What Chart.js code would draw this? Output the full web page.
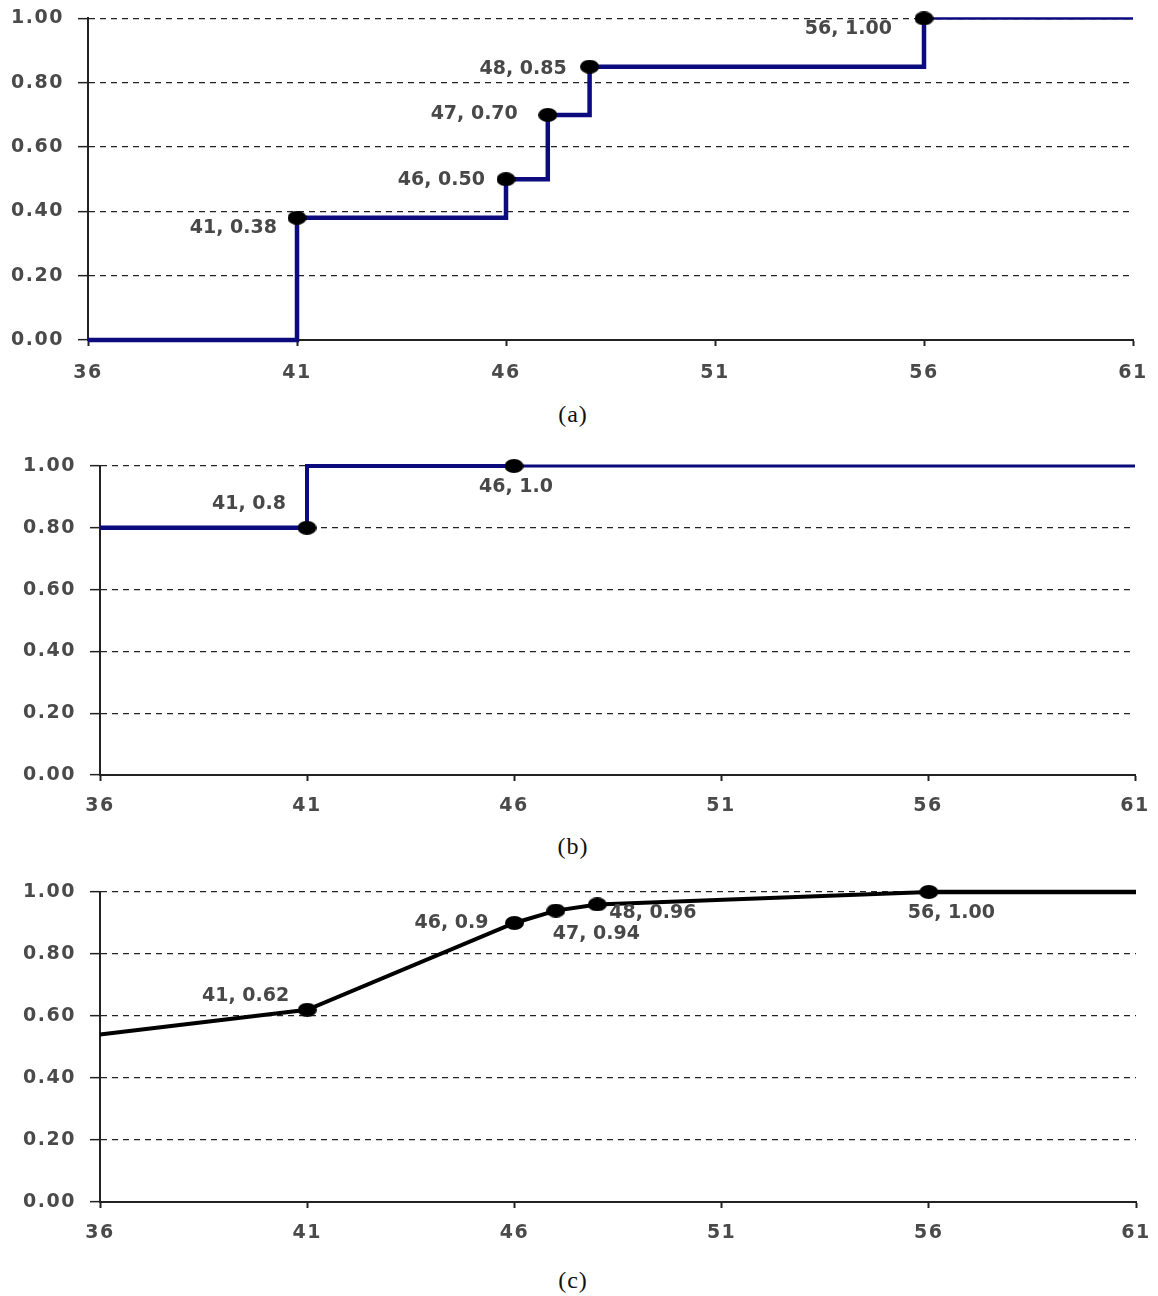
<!DOCTYPE html>
<html>
<head>
<meta charset="utf-8">
<script src="https://cdn.jsdelivr.net/npm/chart.js@4.4.1/dist/chart.umd.min.js"></script>
<style>
  html, body { margin: 0; padding: 0; background: #fff; }
  body { width: 1158px; height: 1296px; position: relative; overflow: hidden; }
  canvas { position: absolute; left: 0; }
  .cap { position: absolute; left: 0; width: 1146px; text-align: center;
         font: 24px "Liberation Serif", "Times New Roman", serif; letter-spacing: 1px; color: #111; }
</style>
</head>
<body>
<canvas id="chartA" width="1158" height="390" style="top:-7px"></canvas>
<div class="cap" style="top:401px">(a)</div>
<canvas id="chartB" width="1158" height="390" style="top:440px"></canvas>
<div class="cap" style="top:833px">(b)</div>
<canvas id="chartC" width="1158" height="390" style="top:866px"></canvas>
<div class="cap" style="top:1267px">(c)</div>

<script>
// shared axes
const xTicks = [36, 41, 46, 51, 56, 61];
const yTicks = [0, 0.2, 0.4, 0.6, 0.8, 1.0];

// (a) step function
const xA = [36, 41, 46, 47, 48, 56, 61];
const yA = [0, 0.38, 0.50, 0.70, 0.85, 1.00, 1.00];
const labelsA = [null, '41, 0.38', '46, 0.50', '47, 0.70', '48, 0.85', '56, 1.00', null];

// (b) step function
const xB = [36, 41, 46, 61];
const yB = [0.8, 0.8, 1.0, 1.0];
const labelsB = [null, '41, 0.8', '46, 1.0', null];

// (c) polyline
const xC = [36, 41, 46, 47, 48, 56, 61];
const yC = [0.54, 0.62, 0.90, 0.94, 0.96, 1.00, 1.00];
const labelsC = [null, '41, 0.62', '46, 0.9', '47, 0.94', '48, 0.96', '56, 1.00', null];

// where each label sits relative to its point: [align, dx, dy]
const placeA = [null, ['right', -20, 10], ['right', -21, 1], ['right', -30, -1], ['right', -23, 2], ['right', -32, 11], null];
const placeB = [null, ['right', -21, -24], ['center', 2, 21], null];
const placeC = [null, ['right', -18, -14], ['right', -26, 0], ['left', -3, 23], ['left', 12, 9], ['left', -21, 21], null];

const NAVY = '#0b0b7d';
const FONT = 'DejaVu Sans';

function makeDot(w, h) {
    const c = document.createElement('canvas');
    c.width = w; c.height = h;
    const g = c.getContext('2d');
    g.fillStyle = '#000';
    g.beginPath();
    g.ellipse(w / 2, h / 2, w / 2, h / 2, 0, 0, Math.PI * 2);
    g.fill();
    return c;
}
const dot = makeDot(19, 14);

// wide-ish tick text
const spacing = {
    id: 'spacing',
    beforeDraw: chart => { chart.ctx.letterSpacing = '1.5px'; },
    afterDraw: chart => { chart.ctx.letterSpacing = '0px'; }
};

const pointLabels = {
    id: 'pointLabels',
    afterDatasetsDraw(chart, args, o) {
        const ctx = chart.ctx;
        const meta = chart.getDatasetMeta(0);
        ctx.save();
        ctx.letterSpacing = '0px';
        ctx.font = 'bold 19px "' + FONT + '"';
        ctx.fillStyle = '#484848';
        ctx.textBaseline = 'middle';
        o.texts.forEach((t, i) => {
            if (!t) return;
            const p = meta.data[i];
            const [align, dx, dy] = o.place[i];
            ctx.textAlign = align;
            ctx.fillText(t, p.x + dx, p.y + dy);
        });
        ctx.restore();
    }
};

function build(id, xs, ys, texts, place, cfg) {
    const ctx = document.getElementById(id);
    const old = Chart.getChart(ctx);
    if (old) old.destroy();

    new Chart(ctx, {
        type: 'line',
        data: {
            datasets: [{
                data: xs.map((x, i) => ({ x: x, y: ys[i] })),
                borderColor: cfg.color,
                borderWidth: 4,
                borderCapStyle: 'butt',
                borderJoinStyle: 'miter',
                stepped: cfg.stepped,
                segment: { borderWidth: s => cfg.widths[s.p0DataIndex] },
                pointStyle: dot,
                pointRadius: texts.map(t => t ? 7 : 0),
                pointHoverRadius: 0,
                fill: false,
                clip: false
            }]
        },
        plugins: [spacing, pointLabels],
        options: {
            responsive: false,
            animation: false,
            events: [],
            layout: { padding: { top: cfg.top, right: cfg.right, left: 0, bottom: 0 } },
            plugins: {
                legend: { display: false },
                tooltip: { enabled: false },
                pointLabels: { texts: texts, place: place }
            },
            scales: {
                x: {
                    type: 'linear',
                    min: 36,
                    max: 61,
                    afterBuildTicks: s => { s.ticks = xTicks.map(v => ({ value: v })); },
                    afterFit: s => { s.height = cfg.xh; s.paddingRight = 0; s.paddingLeft = 0; },
                    grid: { drawOnChartArea: false, drawTicks: true, tickLength: 6, tickWidth: 2, tickColor: '#222' },
                    border: { color: '#222', width: 2 },
                    ticks: { color: '#4a4a4a', font: { family: FONT, size: 19, weight: 'bold' }, padding: cfg.xpad, maxRotation: 0,
                             callback: v => String(v) }
                },
                y: {
                    min: 0,
                    max: 1,
                    afterBuildTicks: s => { s.ticks = yTicks.map(v => ({ value: v })); },
                    afterFit: s => { s.width = cfg.yw; },
                    grid: { color: '#222', lineWidth: 1.3, tickLength: 10, tickWidth: 1.5, tickColor: '#222' },
                    border: { color: '#222', width: 2, dash: [6, 5] },
                    ticks: { color: '#4a4a4a', font: { family: FONT, size: 19, weight: 'bold' }, padding: 14,
                             callback: v => v.toFixed(2) }
                }
            }
        }
    });
}

build('chartA', xA, yA, labelsA, placeA,
    { color: NAVY, stepped: 'before', widths: [4.5, 4.5, 4.5, 4.5, 4.5, 2.5], top: 25, right: 25, xh: 43, yw: 88, xpad: 16 });
build('chartB', xB, yB, labelsB, placeB,
    { color: NAVY, stepped: 'after', widths: [4.5, 4, 3], top: 26, right: 23, xh: 55, yw: 100, xpad: 14 });
build('chartC', xC, yC, labelsC, placeC,
    { color: '#000', stepped: false, widths: [4, 4, 4, 4, 4, 4.5], top: 26, right: 22, xh: 54, yw: 100, xpad: 14 });
</script>
</body>
</html>
